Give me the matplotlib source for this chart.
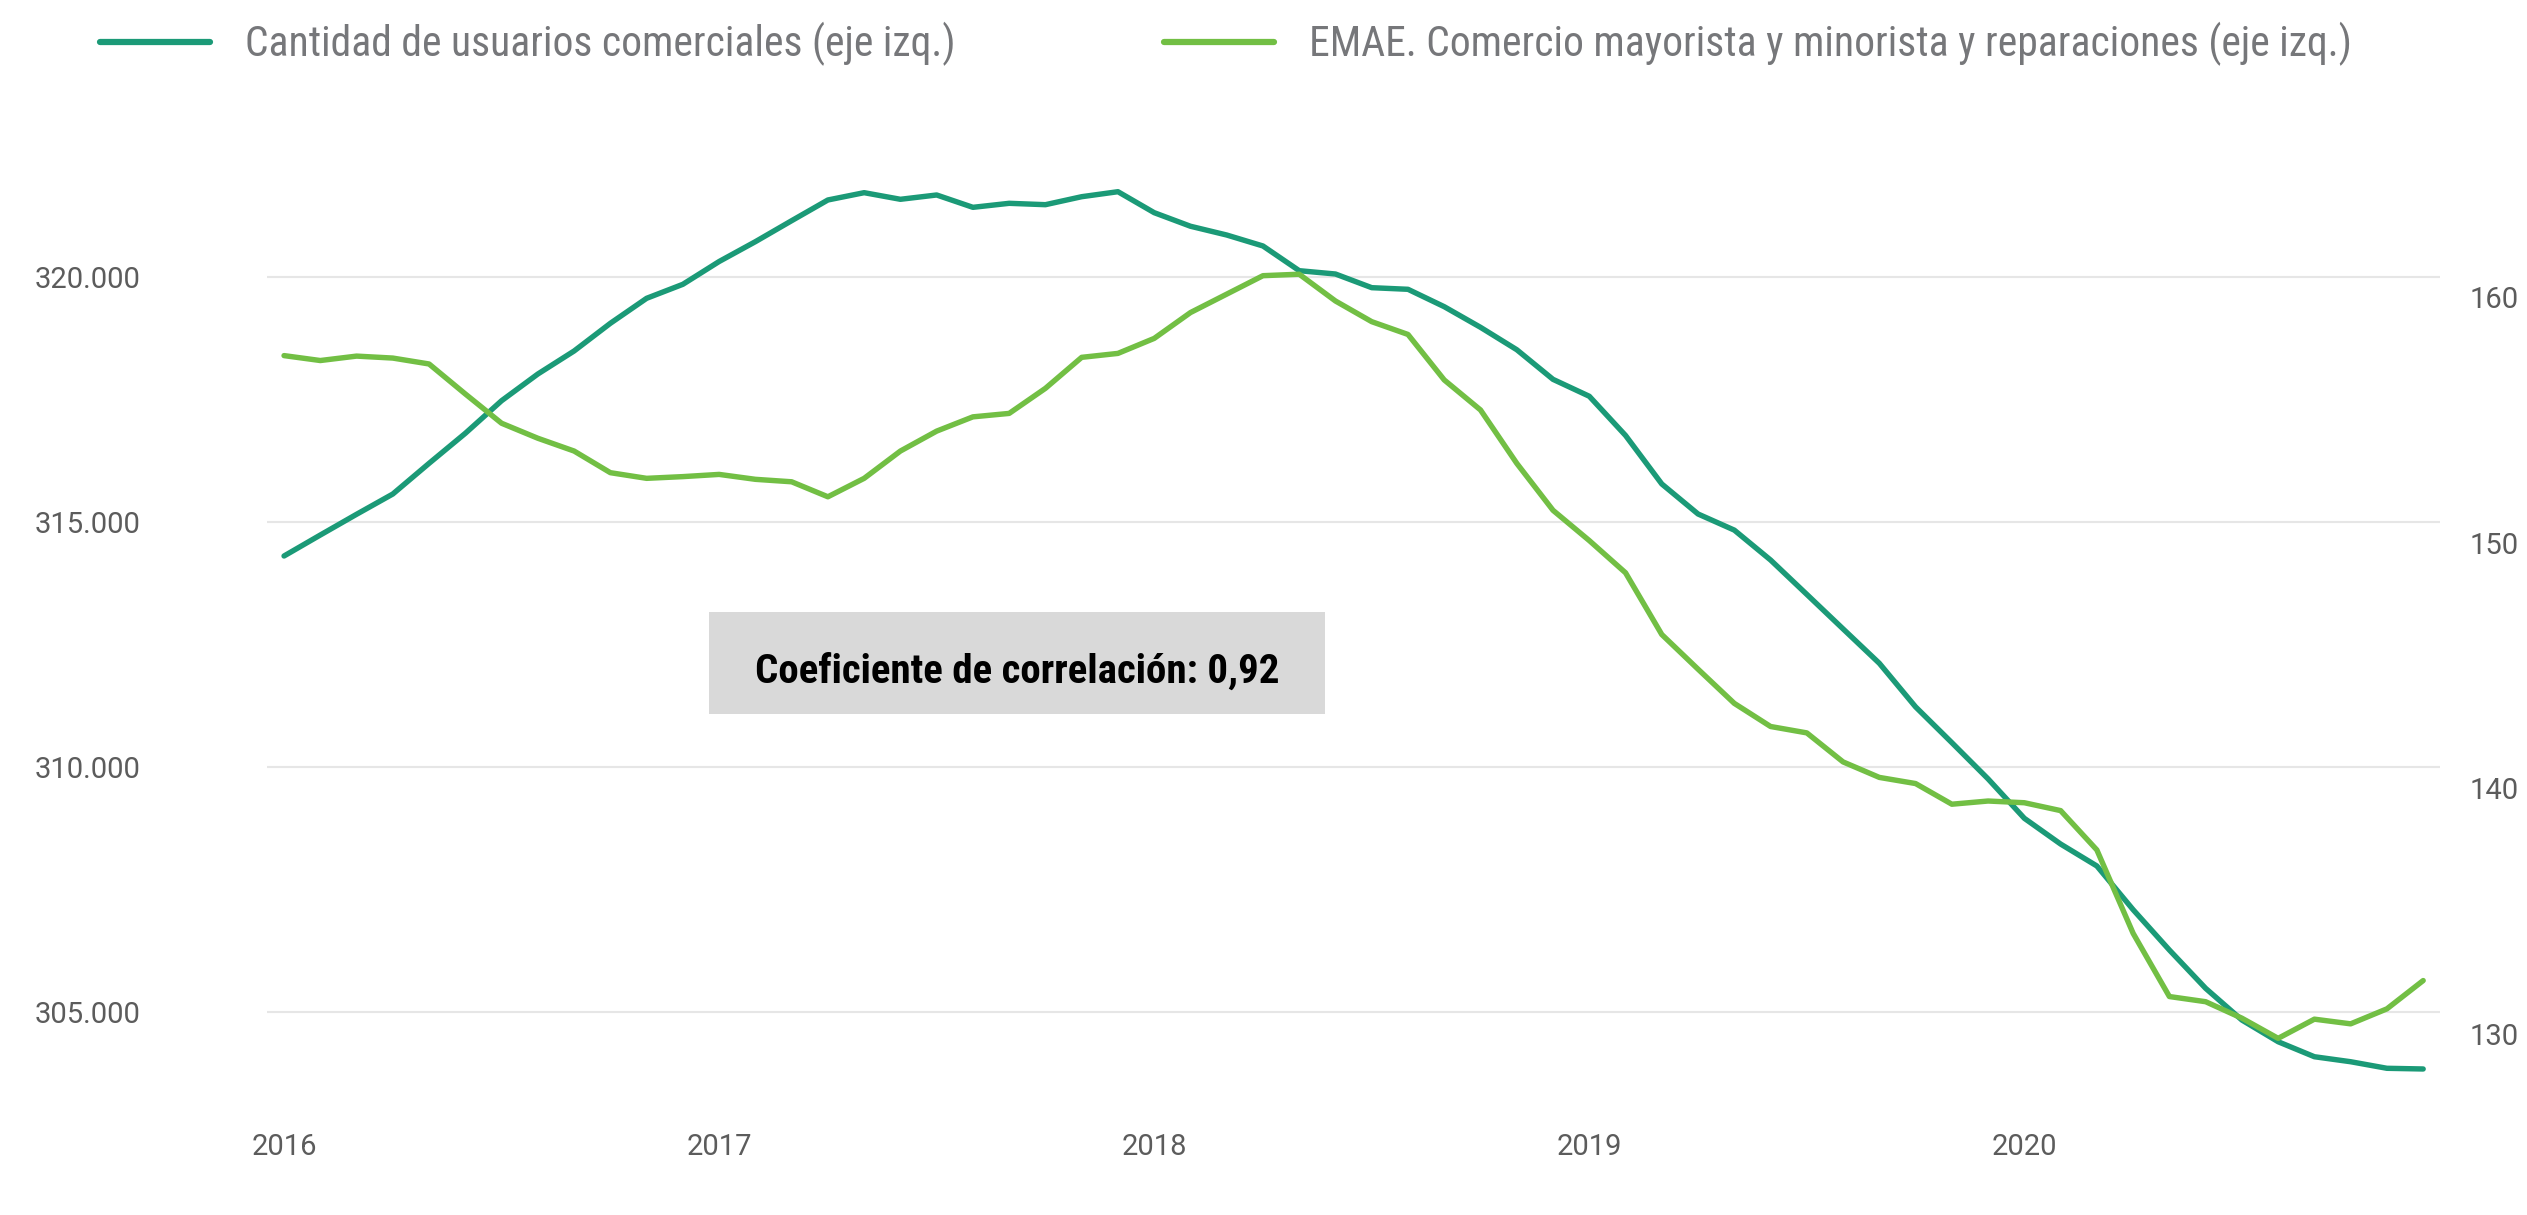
import matplotlib
matplotlib.use('Agg')
import matplotlib.pyplot as plt
from matplotlib import font_manager
from matplotlib.patches import Rectangle

# monthly data, Jan 2016 - Dec 2020
usuarios = [
    314310, 314738, 315161, 315575, 316201, 316814, 317479, 318024, 318494, 319059,
    319569, 319855, 320320, 320725, 321153, 321576, 321725, 321590, 321678, 321426,
    321508, 321480, 321643, 321745, 321317, 321040, 320861, 320637, 320133, 320065,
    319786, 319753, 319398, 318977, 318520, 317915, 317570, 316770, 315780, 315167,
    314838, 314228, 313526, 312822, 312120, 311230, 310500, 309760, 308956, 308431,
    307983, 307091, 306268, 305486, 304839, 304396, 304090, 303988, 303854, 303840,
]
emae = [
    157.60, 157.40, 157.58, 157.50, 157.26, 156.04, 154.85, 154.24, 153.72, 152.84,
    152.61, 152.68, 152.77, 152.57, 152.47, 151.86, 152.61, 153.72, 154.53, 155.11,
    155.25, 156.27, 157.53, 157.69, 158.30, 159.35, 160.10, 160.85, 160.91, 159.82,
    158.98, 158.46, 156.61, 155.39, 153.22, 151.31, 150.08, 148.77, 146.26, 144.85,
    143.46, 142.52, 142.26, 141.08, 140.45, 140.20, 139.36, 139.49, 139.42, 139.10,
    137.50, 134.11, 131.54, 131.33, 130.66, 129.84, 130.62, 130.43, 131.04, 132.19,
]
years = ['2016', '2017', '2018', '2019', '2020']
left_ticks = [305000, 310000, 315000, 320000]
right_ticks = [130, 140, 150, 160]
label_usuarios = 'Cantidad de usuarios comerciales (eje izq.)'
label_emae = 'EMAE. Comercio mayorista y minorista y reparaciones (eje izq.)'
nota = 'Coeficiente de correlación: 0,92'

TEAL = '#1b9a77'
GREEN = '#72bf44'
GRAY_TXT = '#5c5c5c'

# pick a condensed face if there is one
names = {f.name for f in font_manager.fontManager.ttflist}
if 'Roboto Condensed' in names:
    cond = 'Roboto Condensed'
elif 'Liberation Sans Narrow' in names:
    cond = 'Liberation Sans Narrow'
else:
    cond = 'Roboto'
plt.rcParams['font.family'] = ['Roboto', 'DejaVu Sans']

fig = plt.figure(figsize=(25.27, 12.15), dpi=100)
ax = fig.add_axes([0.10566, 0.10288, 0.86, 0.77366])
ax2 = ax.twinx()

x = list(range(len(usuarios)))
l1, = ax.plot(x, usuarios, color=TEAL, lw=3.9, solid_joinstyle='round',
              solid_capstyle='round', label=label_usuarios)
l2, = ax2.plot(x, emae, color=GREEN, lw=3.9, solid_joinstyle='round',
               solid_capstyle='round', label=label_emae)

ax.set_xlim(-0.47, 59.47)
ax.set_ylim(303411, 322596)
ax2.set_ylim(127.74, 165.96)

ax.set_yticks(left_ticks)
ax.set_yticklabels([f'{v:,}'.replace(',', '.') for v in left_ticks])
ax2.set_yticks(right_ticks)
ax2.set_yticklabels([str(v) for v in right_ticks])
ax.set_xticks([0, 12, 24, 36, 48])
ax.set_xticklabels(years)

ax.grid(axis='y', color='#e6e6e6', lw=1.5)
ax.set_axisbelow(True)
for a in (ax, ax2):
    for s in a.spines.values():
        s.set_visible(False)

ax.tick_params(axis='y', length=0, pad=90, labelsize=21, labelcolor=GRAY_TXT)
ax.tick_params(axis='x', length=0, pad=31, labelsize=21, labelcolor=GRAY_TXT)
ax2.tick_params(axis='y', length=0, pad=21, labelsize=21, labelcolor=GRAY_TXT)
for t in ax.get_yticklabels():
    t.set_horizontalalignment('left')
    t.set_x(-(267 - 35) / 2173)
    t.set_transform(ax.get_yaxis_transform())

# legend on top
leg = fig.legend(handles=[l1, l2], loc='center left',
                 bbox_to_anchor=(100 / 2527, 1 - 44 / 1215), ncol=2,
                 frameon=False, handlelength=2.64,
                 handletextpad=0.84, columnspacing=5.0, borderpad=0,
                 borderaxespad=0, prop={'family': [cond, 'DejaVu Sans'], 'size': 30})
for t in leg.get_texts():
    t.set_color('#76777a')
for h in leg.legend_handles:
    h.set_linewidth(4.5)

# correlation box
fig.patches.append(Rectangle((709 / 2527, 1 - 714 / 1215), 616 / 2527, 102 / 1215,
                             transform=fig.transFigure, facecolor='#d9d9d9',
                             edgecolor='none', zorder=5))
fig.text(1017 / 2527, 1 - 672 / 1215, nota, ha='center', va='center',
         fontsize=29.5, fontweight='bold', color='black',
         family=[cond, 'DejaVu Sans'], zorder=6)

fig.savefig('out.png', dpi=100)
